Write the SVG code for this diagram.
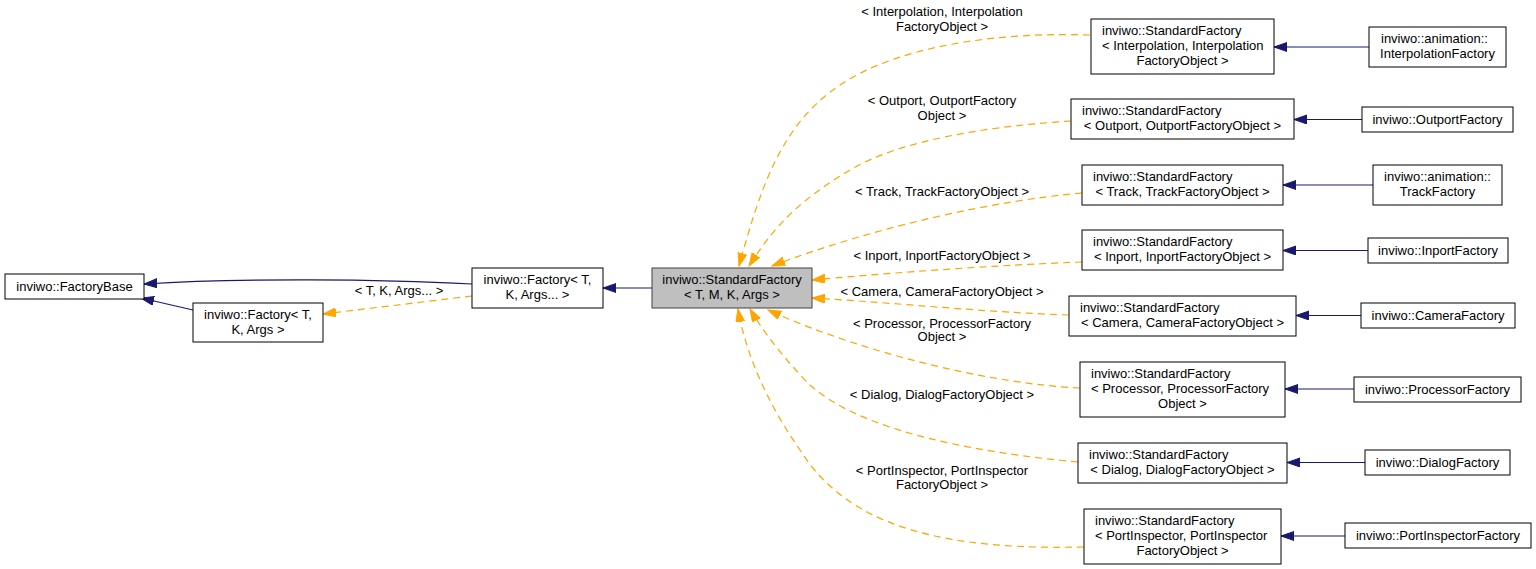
<svg xmlns="http://www.w3.org/2000/svg" width="1536" height="569" viewBox="0 0 1536 569">
<style>
  .node rect { fill: #ffffff; stroke: #000000; stroke-width: 1; }
  .node.hl rect { fill: #bfbfbf; stroke: #404040; }
  text { font-family: "Liberation Sans", Arial, sans-serif; font-size: 13px; fill: #000000; }
  .c { text-anchor: middle; }
  .l { text-anchor: start; }
  .inh { fill: none; stroke: #191970; stroke-width: 1.2; marker-end: url(#ab); }
  .tpl { fill: none; stroke: #ffa500; stroke-width: 1.2; stroke-dasharray: 7,5; marker-end: url(#ao); }
</style>
<defs>
  <marker id="ab" markerUnits="userSpaceOnUse" markerWidth="14" markerHeight="10" refX="13" refY="4.5" orient="auto">
    <path d="M0,0 L13,4.5 L0,9 Z" fill="#191970" stroke="#191970" stroke-width="1"/>
  </marker>
  <marker id="ao" markerUnits="userSpaceOnUse" markerWidth="14" markerHeight="10" refX="13" refY="4.5" orient="auto">
    <path d="M0,0 L13,4.5 L0,9 Z" fill="#ffa500" stroke="#ffa500" stroke-width="1"/>
  </marker>
</defs>
<rect x="0" y="0" width="1536" height="569" fill="#ffffff"/>

<g id="connectors">
  <path class="inh" d="M472,284 C380,279 240,278 144,284"/>
  <path class="inh" d="M193,310 L141,298"/>
  <path class="inh" d="M652,288 L603,288"/>
  <path class="tpl" d="M472,296 L323,314"/>
  <text class="c" x="399" y="295">&lt; T, K, Args... &gt;</text>

  <path class="tpl" d="M1090,35 C1000,32 900,45 840,85 C780,125 760,190 739,266"/>
  <path class="tpl" d="M1071,121 C990,126 900,140 850,170 C800,200 775,225 749,266"/>
  <path class="tpl" d="M1082,193 C1000,200 880,225 772,266"/>
  <path class="tpl" d="M1082,262 C1000,265 900,272 812,280"/>
  <path class="tpl" d="M1069,315 C980,312 900,303 812,298"/>
  <path class="tpl" d="M1080,388 C990,384 860,352 768,310"/>
  <path class="tpl" d="M1078,462 C970,452 860,430 810,385 C790,365 765,335 750,309"/>
  <path class="tpl" d="M1084,547 C950,550 850,530 800,450 C765,400 745,350 738,309"/>

  <text class="c" x="942" y="16">&lt; Interpolation, Interpolation</text>
  <text class="c" x="942" y="31">FactoryObject &gt;</text>
  <text class="c" x="942" y="105">&lt; Outport, OutportFactory</text>
  <text class="c" x="942" y="120">Object &gt;</text>
  <text class="c" x="942" y="196">&lt; Track, TrackFactoryObject &gt;</text>
  <text class="c" x="942" y="260">&lt; Inport, InportFactoryObject &gt;</text>
  <text class="c" x="942" y="296">&lt; Camera, CameraFactoryObject &gt;</text>
  <text class="c" x="942" y="328">&lt; Processor, ProcessorFactory</text>
  <text class="c" x="942" y="341">Object &gt;</text>
  <text class="c" x="942" y="399">&lt; Dialog, DialogFactoryObject &gt;</text>
  <text class="c" x="942" y="475">&lt; PortInspector, PortInspector</text>
  <text class="c" x="942" y="489">FactoryObject &gt;</text>

  <path class="inh" d="M1369,47 L1274,47"/>
  <path class="inh" d="M1362,119.5 L1294,119.5"/>
  <path class="inh" d="M1373,185 L1283,185"/>
  <path class="inh" d="M1368,250.5 L1283,250.5"/>
  <path class="inh" d="M1361,315.5 L1296,315.5"/>
  <path class="inh" d="M1354,389 L1285,389"/>
  <path class="inh" d="M1365,462.5 L1287,462.5"/>
  <path class="inh" d="M1345,536 L1281,536"/>
</g>

<g id="FactoryBase" class="node">
  <rect x="5" y="274" width="139" height="25"/>
  <text class="c" x="74.5" y="290.5">inviwo::FactoryBase</text>
</g>
<g id="FactoryTKArgs" class="node">
  <rect x="193" y="303" width="130" height="39"/>
  <text class="c" x="258" y="319">inviwo::Factory&lt; T,</text>
  <text class="c" x="258" y="334">K, Args &gt;</text>
</g>
<g id="FactoryTKArgsPack" class="node">
  <rect x="472" y="268" width="131" height="40"/>
  <text class="c" x="537.5" y="284">inviwo::Factory&lt; T,</text>
  <text class="c" x="537.5" y="299">K, Args... &gt;</text>
</g>
<g id="StandardFactory" class="node hl">
  <rect x="652" y="268" width="160" height="40"/>
  <text class="c" x="732" y="284">inviwo::StandardFactory</text>
  <text class="c" x="732" y="299">&lt; T, M, K, Args &gt;</text>
</g>

<g id="SF_Interpolation" class="node">
  <rect x="1091" y="19" width="183" height="55"/>
  <text class="l" x="1102" y="35">inviwo::StandardFactory</text>
  <text class="l" x="1102" y="50">&lt; Interpolation, Interpolation</text>
  <text class="c" x="1182.5" y="65">FactoryObject &gt;</text>
</g>
<g id="InterpolationFactory" class="node">
  <rect x="1369" y="27" width="137" height="40"/>
  <text class="l" x="1381" y="43">inviwo::animation::</text>
  <text class="c" x="1437.5" y="58">InterpolationFactory</text>
</g>

<g id="SF_Outport" class="node">
  <rect x="1071" y="99" width="223" height="40"/>
  <text class="l" x="1082" y="115">inviwo::StandardFactory</text>
  <text class="c" x="1182.5" y="130">&lt; Outport, OutportFactoryObject &gt;</text>
</g>
<g id="OutportFactory" class="node">
  <rect x="1362" y="107" width="151" height="25"/>
  <text class="c" x="1437.5" y="123.5">inviwo::OutportFactory</text>
</g>

<g id="SF_Track" class="node">
  <rect x="1082" y="165" width="201" height="40"/>
  <text class="l" x="1093" y="181">inviwo::StandardFactory</text>
  <text class="c" x="1182.5" y="196">&lt; Track, TrackFactoryObject &gt;</text>
</g>
<g id="TrackFactory" class="node">
  <rect x="1373" y="165" width="129" height="40"/>
  <text class="c" x="1437.5" y="181">inviwo::animation::</text>
  <text class="c" x="1437.5" y="196">TrackFactory</text>
</g>

<g id="SF_Inport" class="node">
  <rect x="1082" y="230" width="201" height="40"/>
  <text class="l" x="1093" y="246">inviwo::StandardFactory</text>
  <text class="c" x="1182.5" y="261">&lt; Inport, InportFactoryObject &gt;</text>
</g>
<g id="InportFactory" class="node">
  <rect x="1368" y="238" width="140" height="25"/>
  <text class="c" x="1438" y="254.5">inviwo::InportFactory</text>
</g>

<g id="SF_Camera" class="node">
  <rect x="1069" y="296" width="227" height="40"/>
  <text class="l" x="1080" y="312">inviwo::StandardFactory</text>
  <text class="c" x="1182.5" y="327">&lt; Camera, CameraFactoryObject &gt;</text>
</g>
<g id="CameraFactory" class="node">
  <rect x="1361" y="303" width="154" height="25"/>
  <text class="c" x="1438" y="319.5">inviwo::CameraFactory</text>
</g>

<g id="SF_Processor" class="node">
  <rect x="1080" y="362" width="205" height="55"/>
  <text class="l" x="1091" y="378">inviwo::StandardFactory</text>
  <text class="l" x="1091" y="393">&lt; Processor, ProcessorFactory</text>
  <text class="c" x="1182.5" y="408">Object &gt;</text>
</g>
<g id="ProcessorFactory" class="node">
  <rect x="1354" y="377" width="167" height="25"/>
  <text class="c" x="1437.5" y="393.5">inviwo::ProcessorFactory</text>
</g>

<g id="SF_Dialog" class="node">
  <rect x="1078" y="443" width="209" height="40"/>
  <text class="l" x="1089" y="459">inviwo::StandardFactory</text>
  <text class="c" x="1182.5" y="474">&lt; Dialog, DialogFactoryObject &gt;</text>
</g>
<g id="DialogFactory" class="node">
  <rect x="1365" y="450" width="145" height="25"/>
  <text class="c" x="1437.5" y="466.5">inviwo::DialogFactory</text>
</g>

<g id="SF_PortInspector" class="node">
  <rect x="1084" y="509" width="197" height="55"/>
  <text class="l" x="1095" y="525">inviwo::StandardFactory</text>
  <text class="l" x="1095" y="540">&lt; PortInspector, PortInspector</text>
  <text class="c" x="1182.5" y="555">FactoryObject &gt;</text>
</g>
<g id="PortInspectorFactory" class="node">
  <rect x="1345" y="523" width="186" height="25"/>
  <text class="c" x="1438" y="539.5">inviwo::PortInspectorFactory</text>
</g>
</svg>
